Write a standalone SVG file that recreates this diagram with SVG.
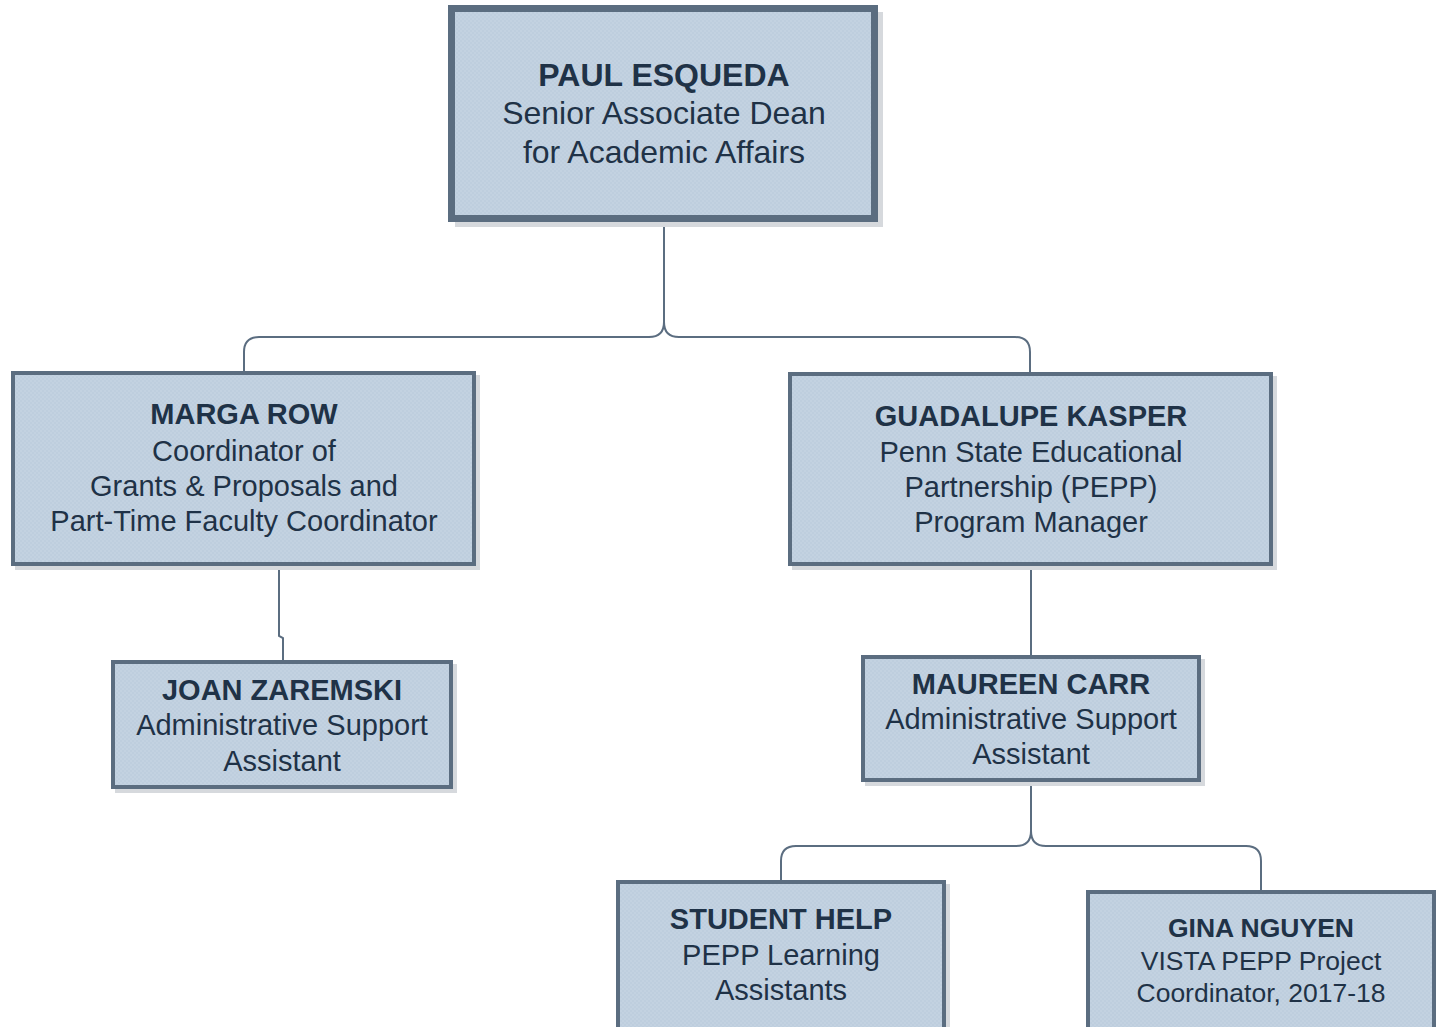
<svg xmlns="http://www.w3.org/2000/svg" width="1436" height="1027" viewBox="0 0 1436 1027">
<defs>
<pattern id="dots" width="4" height="4" patternUnits="userSpaceOnUse">
<rect width="4" height="4" fill="#c3d2e1"/>
<circle cx="1" cy="1" r="0.7" fill="#b7c8da"/>
<circle cx="3" cy="3" r="0.7" fill="#b7c8da"/>
</pattern>
</defs>
<style>
.box{fill:url(#dots);stroke:#5b6d80;stroke-width:4}
.shadow{fill:#d6d9dd}
.big{stroke-width:7}
.conn{fill:none;stroke:#5b6d80;stroke-width:2}
text{font-family:"Liberation Sans",Arial,sans-serif;fill:#1f3247;text-anchor:middle}
.n{font-weight:bold;font-size:29px}
.t{font-size:29px}
</style>
<rect width="1436" height="1027" fill="#ffffff"/>
<g id="connectors">
<path class="conn" d="M664 222 V322 Q664 337 649 337 H259 Q244 337 244 352 V373"/>
<path class="conn" d="M664 322 Q664 337 679 337 H1015 Q1030 337 1030 352 V374"/>
<path class="conn" d="M279 566 V636 L283 638 V661"/>
<path class="conn" d="M1031 566 V656"/>
<path class="conn" d="M1031 782 V831 Q1031 846 1016 846 H796 Q781 846 781 861 V881"/>
<path class="conn" d="M1031 831 Q1031 846 1046 846 H1246 Q1261 846 1261 861 V891"/>
</g>
<g id="paul">
<rect class="shadow" x="455" y="12" width="428" height="215"/>
<rect class="box big" x="451.5" y="8.5" width="423" height="210"/>
<text class="n" x="664" y="86" style="font-size:32px">PAUL ESQUEDA</text>
<text class="t" x="664" y="124" style="font-size:32px">Senior Associate Dean</text>
<text class="t" x="664" y="163" style="font-size:32px">for Academic Affairs</text>
</g>
<g id="marga">
<rect class="shadow" x="15" y="375" width="465" height="195"/>
<rect class="box" x="13" y="373" width="461" height="191"/>
<text class="n" x="244" y="424">MARGA ROW</text>
<text class="t" x="244" y="461">Coordinator of</text>
<text class="t" x="244" y="496">Grants &amp; Proposals and</text>
<text class="t" x="244" y="531">Part-Time Faculty Coordinator</text>
</g>
<g id="guadalupe">
<rect class="shadow" x="792" y="376" width="485" height="194"/>
<rect class="box" x="790" y="374" width="481" height="190"/>
<text class="n" x="1031" y="426">GUADALUPE KASPER</text>
<text class="t" x="1031" y="462">Penn State Educational</text>
<text class="t" x="1031" y="497">Partnership (PEPP)</text>
<text class="t" x="1031" y="532">Program Manager</text>
</g>
<g id="joan">
<rect class="shadow" x="115" y="664" width="342" height="129"/>
<rect class="box" x="113" y="662" width="338" height="125"/>
<text class="n" x="282" y="700">JOAN ZAREMSKI</text>
<text class="t" x="282" y="735">Administrative Support</text>
<text class="t" x="282" y="771">Assistant</text>
</g>
<g id="maureen">
<rect class="shadow" x="865" y="659" width="340" height="127"/>
<rect class="box" x="863" y="657" width="336" height="123"/>
<text class="n" x="1031" y="694">MAUREEN CARR</text>
<text class="t" x="1031" y="729">Administrative Support</text>
<text class="t" x="1031" y="764">Assistant</text>
</g>
<g id="student">
<rect class="shadow" x="620" y="884" width="330" height="150"/>
<rect class="box" x="618" y="882" width="326" height="150"/>
<text class="n" x="781" y="929">STUDENT HELP</text>
<text class="t" x="781" y="965">PEPP Learning</text>
<text class="t" x="781" y="1000">Assistants</text>
</g>
<g id="gina">
<rect class="shadow" x="1090" y="894" width="350" height="140"/>
<rect class="box" x="1088" y="892" width="346" height="140"/>
<text class="n" x="1261" y="937" style="font-size:26.5px">GINA NGUYEN</text>
<text class="t" x="1261" y="970" style="font-size:26.5px">VISTA PEPP Project</text>
<text class="t" x="1261" y="1002" style="font-size:26.5px">Coordinator, 2017-18</text>
</g>
</svg>
